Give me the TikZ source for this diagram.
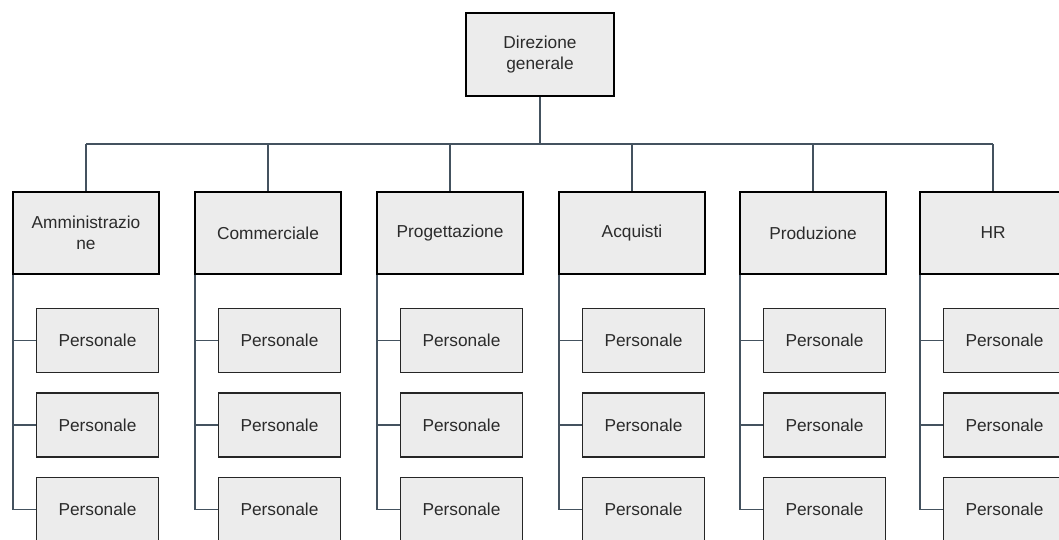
\documentclass[tikz,border=0pt]{standalone}
\usepackage{fontspec}
\setmainfont{Liberation Sans}
\definecolor{boxfill}{HTML}{ECECEC}
\definecolor{linecol}{HTML}{44525F}
\definecolor{textgray}{HTML}{2B2B2B}
\begin{document}
\begin{tikzpicture}[x=1pt,y=-1pt,
  headbox/.style={draw=black, line width=2.8pt, fill=boxfill, text=textgray,
    minimum width=146pt, minimum height=82pt, inner sep=0pt, align=center,
    font=\fontsize{17.3}{21}\selectfont},
  staffbox/.style={draw=black!85, line width=1.5pt, fill=boxfill, text=textgray,
    minimum width=122pt, minimum height=64pt, inner sep=0pt,
    font=\fontsize{17.3}{21}\selectfont},
  conn/.style={draw=linecol, line width=1.5pt}]
\useasboundingbox (0,0) rectangle (1059,539);
\fill[white] (0,0) rectangle (1059,539);
\clip (0,0) rectangle (1059,539);

% head office and the bus line below it
\node[headbox, minimum width=148pt, minimum height=83pt] (dir) at (540,54.5) {Direzione\\generale};
\coordinate (busL) at (86,144);
\coordinate (busR) at (993,144);
\draw[conn] (dir.south) -- (dir.south |- busL);
\draw[conn] (busL) -- (busR);

% departments with three staff boxes each
\foreach \i/\cx/\label in {1/86/{Amministrazio\\ne}, 2/268/Commerciale,
    3/450/Progettazione, 4/632/Acquisti, 5/813/Produzione, 6/993/HR} {
  \coordinate (top\i) at (\cx,144);
  \node[headbox] (dep\i) at (\cx,233) {\label};
  \draw[conn] (top\i) -- (dep\i.north);
  \coordinate (side\i) at ([xshift=1.5pt]dep\i.south west);
  \foreach \j/\cy in {1/340.5, 2/425, 3/509.5} {
    \node[staffbox] (p\i\j) at (\cx+11.5,\cy) {Personale};
  }
  \draw[conn] (side\i) |- (p\i3.west);
  \draw[conn] (side\i |- p\i1.west) -- (p\i1.west);
  \draw[conn] (side\i |- p\i2.west) -- (p\i2.west);
}
\end{tikzpicture}
\end{document}
